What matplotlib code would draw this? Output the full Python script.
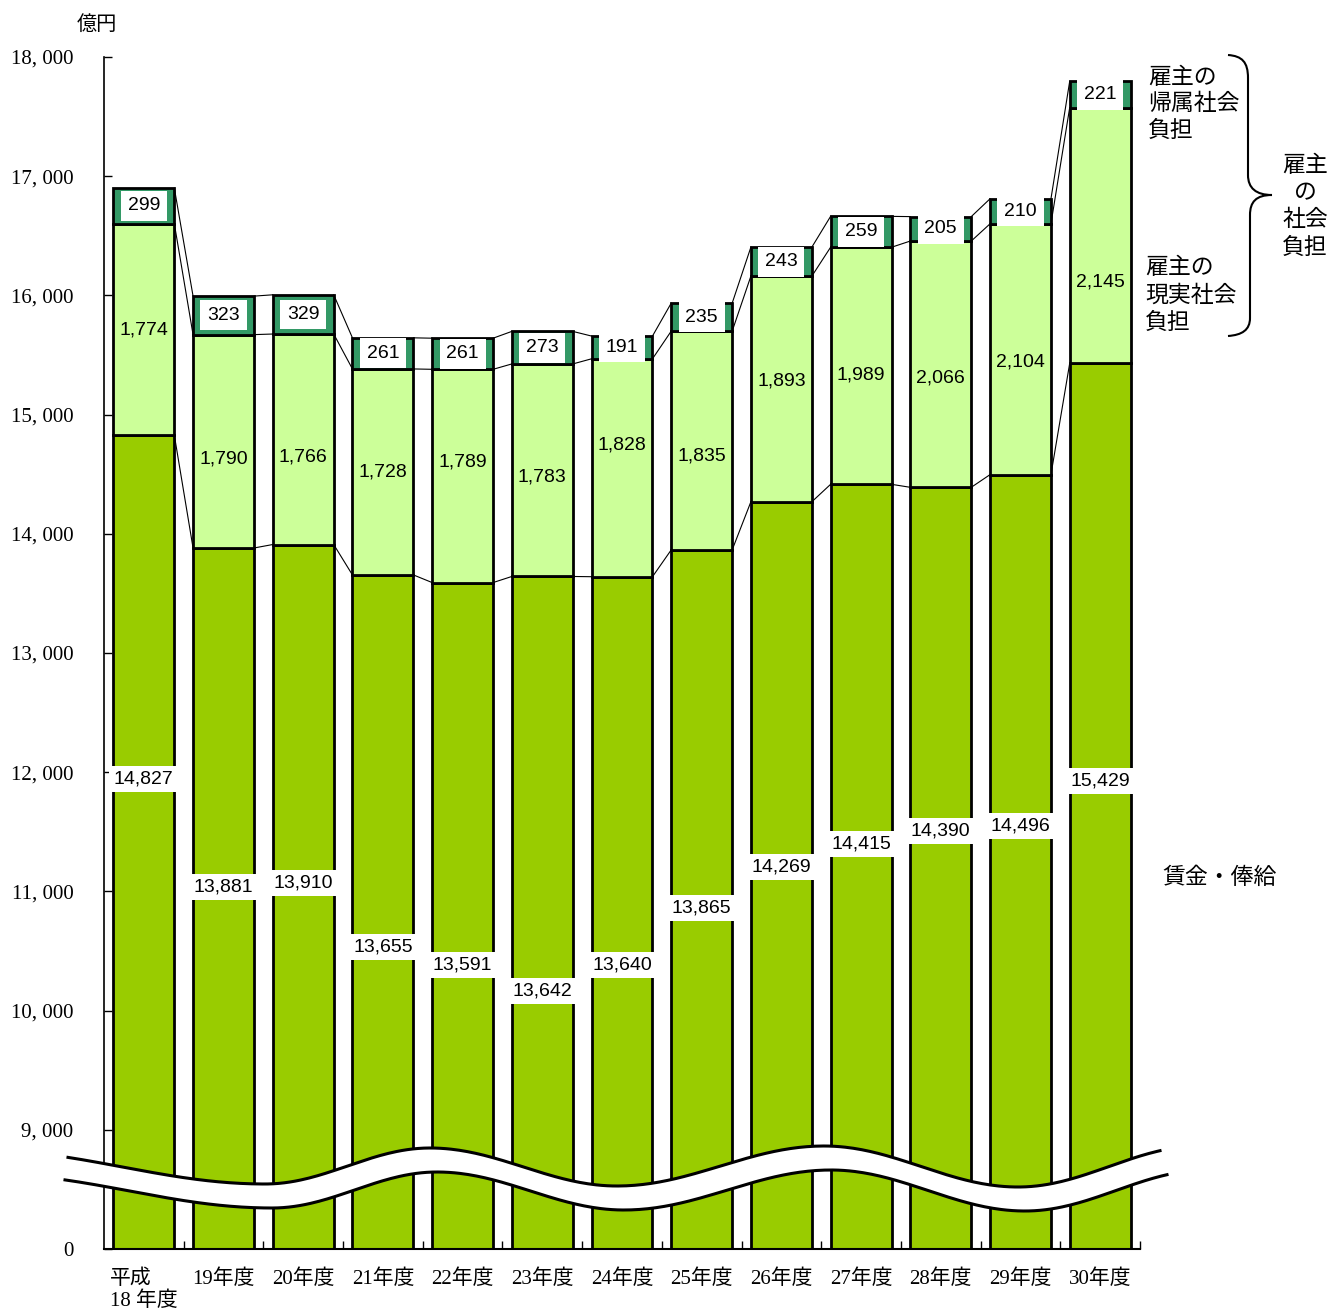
#!/usr/bin/env python3
"""Employee compensation breakdown by fiscal year (stacked bars, broken axis)."""

import numpy as np
import matplotlib

matplotlib.use("Agg")
import matplotlib.pyplot as plt
from matplotlib.lines import Line2D
from matplotlib.patches import PathPatch, Polygon, Rectangle
from matplotlib.path import Path

# --- data (億円) ---
years = ["平成\n18 年度", "19年度", "20年度", "21年度", "22年度", "23年度", "24年度",
         "25年度", "26年度", "27年度", "28年度", "29年度", "30年度"]
wages = [14827, 13881, 13910, 13655, 13591, 13642, 13640, 13865, 14269, 14415, 14390, 14496, 15429]
actual_contrib = [1774, 1790, 1766, 1728, 1789, 1783, 1828, 1835, 1893, 1989, 2066, 2104, 2145]
imputed_contrib = [299, 323, 329, 261, 261, 273, 191, 235, 243, 259, 205, 210, 221]

# label heights inside the bars (axis units)
wage_label_y = [11943, 11037, 11070, 10534, 10383, 10164, 10383, 10861, 11205, 11398, 11507, 11549, 11926]
actual_label_y = [15710, 14628, 14644, 14518, 14602, 14477, 14745, 14653, 15282, 15332, 15307, 15441, 16112]

yticks = list(range(8000, 18001, 1000))
ytick_labels = ["0"] + [f"{v // 1000}, 000" for v in yticks[1:]]

W_PX, H_PX = 1332, 1310
C_WAGE = "#99cc00"
C_ACTUAL = "#ccff99"
C_IMPUTED = "#339966"

NUM_FONT = ["Liberation Sans Narrow", "Liberation Sans", "DejaVu Sans"]
SERIF_FONT = ["Liberation Serif", "Noto Sans CJK JP"]
JP_FONT = ["Noto Sans CJK JP", "DejaVu Sans"]


def px(x, y):
    # pixel position (origin top-left) -> figure fraction
    return x / W_PX, 1 - y / H_PX


def wave_y(xs, knots):
    # smooth cosine blend between successive crest/trough points
    out = np.empty_like(xs)
    for i, x in enumerate(xs):
        for (xa, ya), (xb, yb) in zip(knots[:-1], knots[1:]):
            if xa <= x <= xb:
                t = (x - xa) / (xb - xa)
                out[i] = ya + (yb - ya) * (1 - np.cos(np.pi * t)) / 2
                break
    return out


def main():
    fig = plt.figure(figsize=(W_PX / 100, H_PX / 100), dpi=100)
    ax = fig.add_axes([104 / W_PX, 1 - 1249 / H_PX, (1140 - 104) / W_PX, (1249 - 57) / H_PX])

    x = np.arange(len(years))
    w = 0.765
    wages_a = np.array(wages)
    mid_top = wages_a + np.array(actual_contrib)
    total = mid_top + np.array(imputed_contrib)

    ax.bar(x, wages_a, w, color=C_WAGE, edgecolor="black", linewidth=2, zorder=2)
    ax.bar(x, actual_contrib, w, bottom=wages_a, color=C_ACTUAL, edgecolor="black", linewidth=2, zorder=2)
    ax.bar(x, imputed_contrib, w, bottom=mid_top, color=C_IMPUTED, edgecolor="black", linewidth=2, zorder=2)

    # thin lines joining the segment tops of neighbouring bars
    for level in (wages_a, mid_top, total):
        for i in range(len(x) - 1):
            ax.plot([x[i] + w / 2, x[i + 1] - w / 2], [level[i], level[i + 1]],
                    color="black", linewidth=0.8, zorder=1)

    for i in range(len(x)):
        ax.text(x[i], wage_label_y[i], f"{wages[i]:,}", ha="center", va="center",
                fontsize=14, family=NUM_FONT, zorder=4,
                bbox=dict(boxstyle="square,pad=0.25", facecolor="white", edgecolor="none"))
        ax.text(x[i], actual_label_y[i], f"{actual_contrib[i]:,}", ha="center", va="center",
                fontsize=14, family=NUM_FONT, zorder=4)
        yc = mid_top[i] + imputed_contrib[i] / 2
        ax.add_patch(Rectangle((x[i] - 0.29, yc - 125), 0.58, 250, facecolor="white",
                               edgecolor="none", zorder=3))
        ax.text(x[i], yc, f"{imputed_contrib[i]}", ha="center", va="center",
                fontsize=14, family=NUM_FONT, zorder=4)

    ax.set_xlim(-0.5, len(x) - 0.5)
    ax.set_ylim(8000, 18000)
    for side in ("top", "right"):
        ax.spines[side].set_visible(False)
    ax.spines["left"].set_linewidth(1.2)
    ax.spines["bottom"].set_linewidth(1.5)

    ax.set_yticks(yticks)
    ax.set_yticklabels(ytick_labels, family=SERIF_FONT, fontsize=15)
    ax.tick_params(axis="y", direction="in", length=6, width=1, pad=22)

    ax.set_xticks(x)
    ax.set_xticklabels(years, family=SERIF_FONT, fontsize=15, linespacing=1.15)
    ax.set_xticks(np.arange(0.5, len(x), 1), minor=True)
    ax.tick_params(axis="x", which="major", length=0, pad=15)
    ax.tick_params(axis="x", which="minor", direction="in", length=6, width=1)
    ax.get_xticklabels()[0].set_multialignment("left")

    fig.text(*px(97, 25), "億円", ha="center", va="center", fontsize=14.5, family=SERIF_FONT)

    # axis-break band across the lower part of the bars
    crests = [(-20, 1150), (265, 1184), (430, 1148), (617, 1186), (824, 1146), (1018, 1187), (1200, 1146)]
    xs_up = np.linspace(68, 1160, 400)
    xs_lo = np.linspace(65, 1167, 400)
    upper = wave_y(xs_up, crests)
    lower = wave_y(xs_lo - 7, crests) + 24
    up_pts = [px(a, b) for a, b in zip(xs_up, upper)]
    lo_pts = [px(a, b) for a, b in zip(xs_lo, lower)]
    band = Polygon(up_pts + lo_pts[::-1], closed=True, facecolor="white", edgecolor="none",
                   transform=fig.transFigure, zorder=5)
    fig.add_artist(band)
    for pts in (up_pts, lo_pts):
        fx, fy = zip(*pts)
        fig.add_artist(Line2D(fx, fy, color="black", linewidth=2.2, transform=fig.transFigure, zorder=6))

    # brace grouping the two employer contribution segments
    verts = [(1228, 55), (1242, 56), (1248, 62), (1248, 78),
             (1248, 175),
             (1248, 188), (1256, 195), (1272, 195),
             (1256, 195), (1250, 202), (1250, 215),
             (1250, 318),
             (1250, 330), (1242, 335), (1228, 336)]
    codes = ([Path.MOVETO] + [Path.CURVE4] * 3 + [Path.LINETO] + [Path.CURVE4] * 6
             + [Path.LINETO] + [Path.CURVE4] * 3)
    brace = PathPatch(Path([px(a, b) for a, b in verts], codes), facecolor="none",
                      edgecolor="black", linewidth=1.5, transform=fig.transFigure)
    fig.add_artist(brace)

    def stacked(lines, x0, y0, step, ha="left"):
        for k, s in enumerate(lines):
            fig.text(*px(x0, y0 + k * step), s, ha=ha, va="center", fontsize=16.5, family=JP_FONT)

    stacked(["雇主の", "帰属社会", "負担"], 1148, 77, 26.5)
    stacked(["雇主の", "現実社会", "負担"], 1145, 268, 27)
    stacked(["雇主", "の", "社会", "負担"], 1305, 165, 27.5, ha="center")
    fig.text(*px(1220, 877), "賃金・俸給", ha="center", va="center", fontsize=16.5, family=JP_FONT)

    fig.savefig("out.png", dpi=100)
    plt.close(fig)
    return 0


if __name__ == "__main__":
    raise SystemExit(main())
